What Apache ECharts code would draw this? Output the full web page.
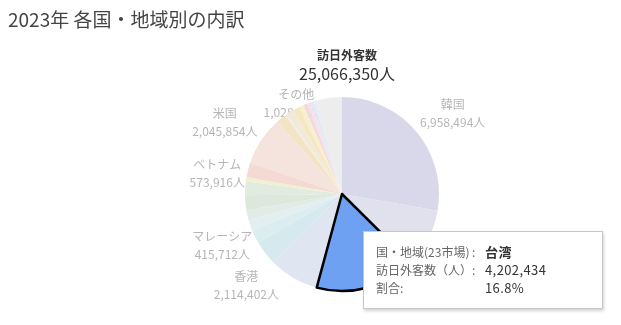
<!DOCTYPE html>
<html>
<head>
<meta charset="utf-8">
<script src="https://cdn.jsdelivr.net/npm/echarts@6/dist/echarts.min.js"></script>
<style>
html, body { margin: 0; padding: 0; background: #fff; }
#chart { width: 621px; height: 325px; }
.tip { font-family: "Noto Sans CJK JP", sans-serif; font-size: 12px; line-height: 18px; color: #666; white-space: nowrap; }
.tip .k { display: inline-block; width: 109px; }
.tip .v { color: #333; font-size: 13px; letter-spacing: 0.4px; }
</style>
</head>
<body>
<div id="chart"></div>
<script>
// 2023年 訪日外客数（国・地域別）
var markets = ['韓国', '中国', '台湾', '香港', 'タイ', 'シンガポール', 'マレーシア', 'インドネシア',
    'フィリピン', 'ベトナム', 'インド', '豪州', '米国', 'カナダ', 'メキシコ', '英国', 'フランス',
    'ドイツ', 'イタリア', 'スペイン', 'ロシア', '北欧地域', '中東地域', 'その他'];
var visitors = [6958494, 2425157, 4202434, 2114402, 995530, 591284, 415712, 425658,
    622167, 573916, 165091, 613114, 2045854, 425597, 72000, 320487, 257685,
    216486, 159792, 120170, 52000, 118000, 147000, 1028320];
var sliceColors = ['#d9d8ea', '#e1e1ed', '#6ea1f2', '#dfe5f1', '#d5e9ee', '#dcedf1', '#e3eef1', '#e2ebe6',
    '#dce8dc', '#e1ebdf', '#eef2cf', '#f5dad4', '#f5e3dd', '#f3e4c6', '#f2ece0', '#f1eadb', '#f5e7c2',
    '#f6f0cf', '#f2d8df', '#f4e2e8', '#ebe4ee', '#e1e8f2', '#e9edf3', '#ededee'];
var labelled = ['韓国', '香港', 'マレーシア', 'ベトナム', '米国', 'その他'];
var selected = '台湾';

// ラベル位置の微調整 [右, 下] px
var labelShift = {
    '韓国': [5, 8],
    '香港': [-26, -28],
    'マレーシア': [11, 7],
    'ベトナム': [13, -12],
    '米国': [-2, 4],
    'その他': [-28, 46]
};

var font = '"Noto Sans CJK JP", sans-serif';
var total = visitors.reduce(function (a, b) { return a + b; }, 0);

function fmt(n) {
    return n.toString().replace(/\B(?=(\d{3})+(?!\d))/g, ',');
}

function shiftPadding(s) {
    var dx = s[0], dy = s[1];
    return [dy > 0 ? dy * 2 : 0, dx < 0 ? -dx * 2 : 0, dy < 0 ? -dy * 2 : 0, dx > 0 ? dx * 2 : 0];
}

// ラベル用（スライスの下に描く）
var labelData = markets.map(function (name, i) {
    var show = labelled.indexOf(name) >= 0;
    return {
        name: name,
        value: visitors[i],
        label: {
            show: show,
            padding: show ? shiftPadding(labelShift[name] || [0, 0]) : 0
        }
    };
});

var pieData = markets.map(function (name, i) {
    var item = { name: name, value: visitors[i], itemStyle: { color: sliceColors[i] } };
    if (name === selected) {
        item.itemStyle.borderColor = '#000';
        item.itemStyle.borderWidth = 2.5;
        item.emphasis = { itemStyle: { color: sliceColors[i], borderColor: '#000', borderWidth: 2.5 } };
    }
    return item;
});

var myChart = echarts.init(document.getElementById('chart'));
var option = {
    animation: false,
    title: [
        {
            text: '2023年 各国・地域別の内訳',
            left: 8,
            top: 10,
            padding: 0,
            textStyle: { fontFamily: font, fontSize: 19, fontWeight: 'normal', color: '#444' }
        },
        {
            text: '訪日外客数',
            subtext: fmt(total) + '人',
            left: 342,
            top: 44,
            textAlign: 'center',
            itemGap: 5,
            textStyle: { fontFamily: font, fontSize: 12, fontWeight: 'bold', color: '#333' },
            subtextStyle: { fontFamily: font, fontSize: 16, color: '#333' }
        }
    ],
    tooltip: {
        trigger: 'item',
        alwaysShowContent: true,
        position: [363, 231],
        transitionDuration: 0,
        backgroundColor: '#fff',
        borderColor: '#c8c8c8',
        borderWidth: 1,
        padding: [11, 12],
        extraCssText: 'box-shadow: 1px 2px 3px rgba(0,0,0,0.18); border-radius: 0; width: 214px;',
        formatter: function (p) {
            return '<div class="tip">' +
                '<span class="k">国・地域(23市場) :</span><b class="v">' + p.name + '</b><br>' +
                '<span class="k">訪日外客数（人）:</span><span class="v">' + fmt(p.value) + '</span><br>' +
                '<span class="k">割合:</span><span class="v">' + p.percent.toFixed(1) + '%</span>' +
                '</div>';
        }
    },
    series: [
        {
            type: 'pie',
            z: 1,
            silent: true,
            tooltip: { show: false },
            center: [342, 194],
            radius: [115, 155],
            startAngle: 90,
            clockwise: true,
            itemStyle: { color: 'rgba(0,0,0,0)' },
            emphasis: { disabled: true },
            label: {
                position: 'inside',
                formatter: function (p) {
                    return '{n|' + p.name + '}\n{v|' + fmt(p.value) + '人}';
                },
                rich: {
                    n: { fontFamily: font, fontSize: 12, color: '#b6b6b6', lineHeight: 18, align: 'center' },
                    v: { fontFamily: font, fontSize: 12, color: '#b6b6b6', lineHeight: 18, align: 'center' }
                }
            },
            labelLine: { show: false },
            data: labelData
        },
        {
            type: 'pie',
            z: 2,
            center: [342, 194],
            radius: 97,
            startAngle: 90,
            clockwise: true,
            label: { show: false },
            labelLine: { show: false },
            emphasis: { scale: false },
            data: pieData
        }
    ]
};
myChart.setOption(option);

var selIndex = markets.indexOf(selected);
myChart.dispatchAction({ type: 'highlight', seriesIndex: 1, dataIndex: selIndex });
myChart.dispatchAction({ type: 'showTip', seriesIndex: 1, dataIndex: selIndex });
</script>
</body>
</html>
